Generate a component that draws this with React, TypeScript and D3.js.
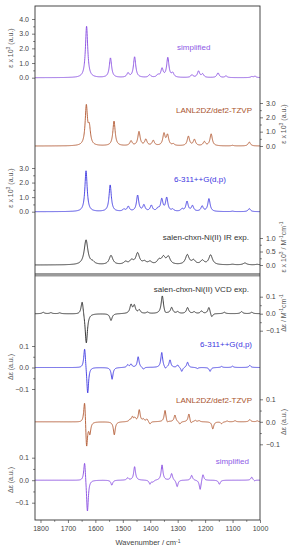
import React, { useEffect, useRef } from "react";
import * as d3 from "d3";

// wavenumber grid the band shapes are evaluated on
const WAVENUMBERS = d3.range(1820, 999.5, -0.5);

// [wavenumber cm-1, peak height]
const IR_SIMPLIFIED = [
  [1632, 3.5], [1545, 1.33], [1481, 0.28], [1457, 1.4], [1402, 0.18], [1372, 0.16],
  [1357, 0.58], [1336, 1.33], [1318, 0.28], [1248, 0.18], [1224, 0.43], [1209, 0.23],
  [1153, 0.32], [1124, 0.11], [1030, 0.07], [1018, 0.09],
];
const IR_LANL = [
  [1633, 2.7], [1622, 1.15], [1532, 1.72], [1470, 0.33], [1441, 0.98], [1416, 0.43],
  [1389, 0.36], [1350, 0.82], [1337, 0.72], [1316, 0.11], [1261, 0.66], [1239, 0.43],
  [1203, 0.28], [1178, 0.83], [1100, 0.04], [1039, 0.27],
];
const IR_6311 = [
  [1634, 2.8], [1546, 1.82], [1496, 0.14], [1480, 0.33], [1446, 1.1], [1423, 0.42],
  [1396, 0.4], [1372, 0.18], [1358, 0.82], [1340, 0.92], [1318, 0.13], [1284, 0.16],
  [1266, 0.68], [1246, 0.38], [1211, 0.36], [1186, 0.88], [1100, 0.03], [1039, 0.21],
];
const IR_EXP = [
  [1634, 0.92], [1610, 0.08], [1543, 0.34], [1490, 0.1], [1468, 0.15], [1446, 0.42],
  [1421, 0.1], [1401, 0.1], [1368, 0.16], [1352, 0.26], [1334, 0.28], [1265, 0.36],
  [1242, 0.15], [1210, 0.15], [1180, 0.36], [1100, 0.02], [1055, 0.07], [1010, 0.02],
];
const VCD_EXP = [
  [1790, 0.008], [1762, 0.006], [1730, 0.005], [1648, 0.085], [1633, -0.18],
  [1543, -0.04], [1470, 0.05], [1458, 0.045], [1440, 0.02], [1410, 0.008],
  [1356, 0.105], [1345, -0.01], [1322, 0.035], [1300, 0.01], [1264, 0.035],
  [1240, 0.01], [1213, 0.015], [1186, 0.04], [1176, -0.025], [1130, 0.008],
  [1067, 0.012], [1030, 0.008],
];
const VCD_6311 = [
  [1639, 0.1], [1628, -0.13], [1539, -0.055], [1482, 0.012], [1470, 0.015],
  [1444, 0.05], [1425, -0.01], [1358, 0.07], [1345, -0.01], [1328, 0.035],
  [1300, 0.012], [1285, -0.02], [1264, 0.025], [1228, -0.005], [1182, -0.018],
  [1140, 0.005], [1100, 0.006], [1037, 0.01],
];
const VCD_LANL = [
  [1639, 0.115], [1632, -0.13], [1620, -0.05], [1531, -0.058], [1474, 0.008],
  [1465, 0.02], [1456, 0.015], [1440, 0.052], [1425, 0.01], [1412, 0.012],
  [1401, -0.012], [1346, 0.052], [1338, -0.01], [1310, 0.03], [1292, -0.012],
  [1259, 0.037], [1252, -0.012], [1236, 0.006], [1222, 0.005], [1172, -0.032],
  [1140, -0.008], [1120, 0.004], [1091, 0.005], [1037, 0.01], [1010, 0.004],
];
const VCD_SIMPLIFIED = [
  [1639, 0.095], [1629, -0.15], [1540, -0.022], [1482, 0.01], [1457, 0.06],
  [1401, -0.018], [1390, -0.008], [1357, 0.068], [1322, 0.03], [1302, -0.03],
  [1249, 0.022], [1218, -0.045], [1208, 0.03], [1148, -0.018], [1030, 0.014],
  [1020, -0.004],
];

const X_TICKS = d3.range(1800, 999, -100);
const X_MINOR = d3.range(1750, 999, -100);
const TICKS_0_4 = [0, 1, 2, 3, 4];
const TICKS_0_3 = [0, 1, 2, 3];
const TICKS_0_1 = [0, 0.5, 1];
const TICKS_VCD = [-0.1, 0, 0.1];

const PURPLE = "#8447e0";
const BROWN = "#b0552d";
const BLUE = "#3b35e0";
const BLACK = "#222";
const AXIS = "#444";
const FONT = "Liberation Sans, Arial, sans-serif";

const LEFT = 35, RIGHT = 260, TOP = 6, BOTTOM = 520;
const x = d3.scaleLinear().domain([1820, 1000]).range([LEFT, RIGHT]);

const PANELS = [
  { key: "irs", peaks: IR_SIMPLIFIED, gamma: 5, color: PURPLE, domain: [0, 4], range: [77.7, 19],
    side: "left", ticks: TICKS_0_4, minor: d3.range(0.5, 4, 1), title: "eps", titleY: 48,
    label: "simplified", lx: 177, ly: 50, anchor: "start", lcolor: "#8d5ae6" },
  { key: "irl", peaks: IR_LANL, gamma: 5, color: BROWN, domain: [0, 3], range: [146, 103],
    side: "right", ticks: TICKS_0_3, minor: d3.range(0.5, 3, 1), title: "eps", titleY: 124,
    label: "LANL2DZ/def2-TZVP", lx: 252, ly: 113, anchor: "end", lcolor: "#a9532e" },
  { key: "ir6", peaks: IR_6311, gamma: 5, color: BLUE, domain: [0, 3], range: [211.7, 168],
    side: "left", ticks: TICKS_0_3, minor: d3.range(0.5, 3, 1), title: "eps", titleY: 188,
    label: "6-311++G(d,p)", lx: 174, ly: 182, anchor: "start", lcolor: BLUE },
  { key: "ire", peaks: IR_EXP, gamma: 8, color: BLACK, domain: [0, 1], range: [265, 238],
    side: "right", ticks: TICKS_0_1, minor: [0.25, 0.75], title: "epsM", titleY: 247,
    label: "salen-chxn-Ni(II) IR exp.", lx: 249, ly: 240, anchor: "end", lcolor: "#333" },
  { key: "vce", peaks: VCD_EXP, gamma: 5, color: BLACK, domain: [-0.1, 0.1], range: [330.7, 296.7],
    side: "right", ticks: TICKS_VCD, minor: [-0.05, 0.05], title: "deM", titleY: 313,
    label: "salen-chxn-Ni(II) VCD exp.", lx: 249, ly: 292, anchor: "end", lcolor: "#333" },
  { key: "vc6", peaks: VCD_6311, gamma: 4, color: BLUE, domain: [-0.1, 0.1], range: [389, 346],
    side: "left", ticks: TICKS_VCD, minor: [-0.05, 0.05], title: "de", titleY: 367,
    label: "6-311++G(d,p)", lx: 252, ly: 347, anchor: "end", lcolor: BLUE },
  { key: "vcl", peaks: VCD_LANL, gamma: 4, color: BROWN, domain: [-0.1, 0.1], range: [444.3, 399.3],
    side: "right", ticks: TICKS_VCD, minor: [-0.05, 0.05], title: "de", titleY: 422,
    label: "LANL2DZ/def2-TZVP", lx: 252, ly: 403, anchor: "end", lcolor: "#a9532e" },
  { key: "vcs", peaks: VCD_SIMPLIFIED, gamma: 4, color: PURPLE, domain: [-0.1, 0.1], range: [502.7, 457.7],
    side: "left", ticks: TICKS_VCD, minor: [-0.05, 0.05], title: "de", titleY: 480,
    label: "simplified", lx: 249, ly: 464, anchor: "end", lcolor: "#8d5ae6" },
];

function broaden(peaks, gamma) {
  const g2 = gamma * gamma;
  return WAVENUMBERS.map(w => [w, d3.sum(peaks, ([c, a]) => a * g2 / ((w - c) * (w - c) + g2))]);
}

function Title({ kind }) {
  const up = (s) => <tspan dy={-2.5} fontSize={5}>{s}</tspan>;
  const down = (s) => <tspan dy={2.5}>{s}</tspan>;
  if (kind === "eps") return <>ε x 10{up("3")}{down(" (a.u.)")}</>;
  if (kind === "epsM") return <>ε x 10{up("3")}{down(" / M")}{up("-1")}{down("cm")}{up("-1")}</>;
  if (kind === "deM") return <>Δε / M{up("-1")}{down("cm")}{up("-1")}</>;
  return <>Δε (a.u.)</>;
}

export default function App() {
  const svgRef = useRef(null);

  useEffect(() => {
    const svg = d3.select(svgRef.current);
    const style = (g) => {
      g.select(".domain").remove();
      g.selectAll("line").attr("stroke", AXIS).attr("stroke-width", 0.7);
      g.selectAll("text").attr("fill", AXIS).attr("font-size", 7).attr("font-family", FONT);
      g.attr("font-family", null).attr("font-size", null);
    };

    PANELS.forEach(p => {
      const y = d3.scaleLinear().domain(p.domain).range(p.range);
      const mk = p.side === "left" ? d3.axisLeft : d3.axisRight;
      const xpos = p.side === "left" ? LEFT : RIGHT;
      svg.select(`.ax-${p.key}`).attr("transform", `translate(${xpos},0)`)
        .call(mk(y).tickValues(p.ticks).tickSize(3).tickPadding(3).tickFormat(d3.format(".1f")))
        .call(style);
      svg.select(`.axm-${p.key}`).attr("transform", `translate(${xpos},0)`)
        .call(mk(y).tickValues(p.minor).tickSize(1.8).tickFormat(() => ""))
        .call(style);
    });

    svg.select(".x-axis").attr("transform", `translate(0,${BOTTOM})`)
      .call(d3.axisBottom(x).tickValues(X_TICKS).tickSize(3).tickPadding(3).tickFormat(d3.format("d")))
      .call(style);
    svg.select(".x-minor").attr("transform", `translate(0,${BOTTOM})`)
      .call(d3.axisBottom(x).tickValues(X_MINOR).tickSize(1.8).tickFormat(() => ""))
      .call(style);
  }, []);

  return (
    <svg ref={svgRef} width={293} height={550}
      style={{ position: "absolute", left: 0, top: 0, background: "#fff" }}
      fontFamily={FONT}>
      <rect x={LEFT} y={273} width={RIGHT - LEFT} height={3.5} fill="#9a9a9a" />
      {PANELS.map(p => {
        const y = d3.scaleLinear().domain(p.domain).range(p.range);
        const line = d3.line().x(d => x(d[0])).y(d => y(d[1]));
        const tx = p.side === "left" ? 12.5 : 285.5;
        return (
          <g key={p.key}>
            <path d={line(broaden(p.peaks, p.gamma))} fill="none" stroke={p.color}
              strokeWidth={0.9} strokeLinejoin="round" />
            <text x={p.lx} y={p.ly} textAnchor={p.anchor} fontSize={8} fill={p.lcolor}>{p.label}</text>
            <text transform={`translate(${tx},${p.titleY}) rotate(-90)`} textAnchor="middle"
              fontSize={7} fill="#555"><Title kind={p.title} /></text>
            <g className={`ax-${p.key}`} />
            <g className={`axm-${p.key}`} />
          </g>
        );
      })}
      <rect x={LEFT} y={TOP} width={RIGHT - LEFT} height={BOTTOM - TOP} fill="none"
        stroke="#333" strokeWidth={0.9} />
      <g className="x-axis" />
      <g className="x-minor" />
      <text x={148} y={545} textAnchor="middle" fontSize={7.5} fill="#444">
        Wavenumber / cm<tspan dy={-2.5} fontSize={5}>-1</tspan>
      </text>
    </svg>
  );
}
